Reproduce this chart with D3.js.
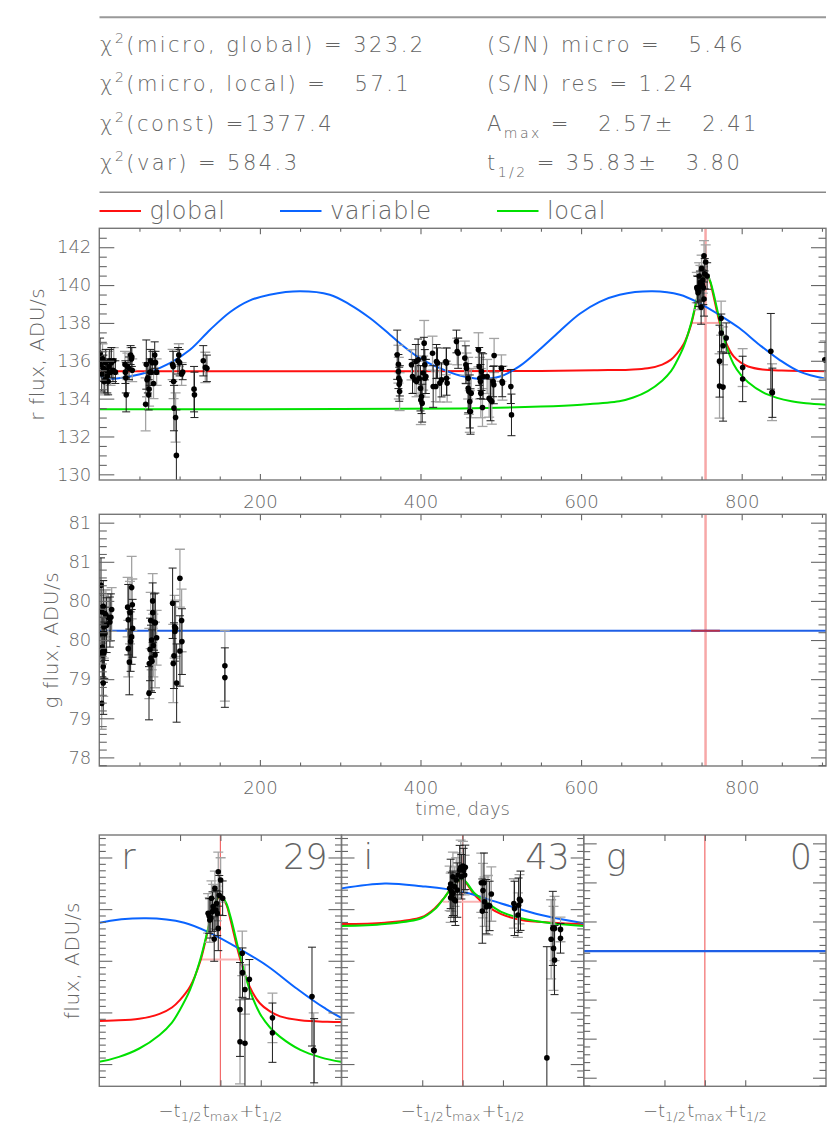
<!DOCTYPE html>
<html>
<head>
<meta charset="utf-8">
<script src="https://cdn.jsdelivr.net/npm/d3@7"></script>
<style>
body { margin: 0; background: #fff; }
svg text { font-family: "DejaVu Sans", "Liberation Sans", sans-serif; font-weight: 200; fill: #646464; }
.stat { font-size: 21px; letter-spacing: 2.45px; }
.legend { font-size: 24px; letter-spacing: 0.6px; }
.tick text { font-size: 18px; }
.ytitle { font-size: 20px; letter-spacing: 0.6px; }
.zlab { font-size: 18px; }
.big { font-size: 35px; }
</style>
</head>
<body>
<svg id="chart" width="830" height="1144"></svg>
<script>

// ---------------- data ----------------

// microlensing fit summary
var chiLabels = ["micro, global", "micro, local", "const", "var"];
var chiValues = [" = 323.2", " =   57.1", " =1377.4", " = 584.3"];
var snMicro = "  5.46";
var snRes = "1.24";
var aMax = ["2.57", "2.41"];
var tHalfText = ["35.83", "3.80"];
var tMax = 755;
var tHalf = 35.83;

var legendNames = ["global", "variable", "local"];
var legendColors = ["#ff1010", "#0a64ff", "#00e000"];

// r band photometry
var rTime = [
  1, 2, 3, 4, 5, 6, 7, 8, 9, 10, 11, 12, 13, 14, 15, 17, 18, 20,
  32, 32.5, 33, 33.5, 35, 37, 39, 40, 40.5, 41,
  57.7, 58.5, 59.5, 60.5, 61.5, 62, 63, 63.5, 64.5, 66, 67.5, 69, 70, 71.4,
  91.3, 92, 92.5, 93, 95, 96, 98, 99, 100, 102.5, 103.8,
  118, 118.5, 129.5, 132, 134,
  371, 372.5, 372.5, 373, 373.5, 374, 374.3,
  388.8, 390.1, 393, 394.2, 395.1, 397.1, 398.4, 400, 400.4, 401.3, 402.1, 403.3, 404.2, 404.6, 405.4, 405.4, 406.7,
  415, 415.8, 419.1, 419.9, 421.2, 424.1, 426.2, 431.6, 432.4, 432.4, 433.2,
  444.8, 445.7, 446.9, 455.2, 456.5, 457.3, 459.4, 459.4, 460.2, 461.4, 461.4, 462.3, 463.1,
  472.2, 473.1, 473.9, 474.7, 475.1, 476, 477.2, 478, 483, 485.5, 487.2, 488.8, 490.5, 491.7, 491.3,
  500.8, 501.7, 502.1, 512.5, 513.3,
  744.1, 745.0, 745.6, 746.5, 747.1, 748.0, 748.6, 749.5, 750.1, 751.0, 751.6, 752.2, 753.1, 753.1, 754.0, 755.2, 757.0,
  772.4, 772.4, 774.4, 774.6, 776.8, 776.8, 780.7, 801.2, 801.2, 836.3, 837.8, 838.2, 903.5
];
var rFlux = [
  136.4, 135.8, 135.3, 136.1, 135.6, 134.9, 135.0, 135.9, 135.5, 135.2, 134.9, 135.7, 136.0, 135.4, 135.9, 135.5, 136.0, 135.4,
  135.8, 135.4, 135.1, 134.2, 135.7, 135.6, 136.3, 136.1, 136.2, 135.5,
  133.7, 135.8, 135.0, 135.1, 134.2, 134.5, 135.4, 136.0, 135.4, 135.9, 134.8, 136.3, 135.9, 135.4,
  135.8, 135.7, 134.9, 133.5, 133.0, 131.0, 136.0, 136.3, 135.9, 135.3, 135.4,
  134.5, 134.2, 136.0, 135.65, 135.6,
  136.32, 135.82, 135.43, 135.08, 134.76, 134.37, 134.94,
  135.79, 135.17, 134.99, 135.96, 134.9, 136.05, 135.08, 134.55, 133.93, 134.11, 133.76, 135.35, 136.14, 136.93, 135.79, 135.08, 135.17,
  136.4, 134.64, 134.64, 135.96, 135.88, 134.82, 134.99, 135.96, 135.88, 135.08, 134.82,
  137.02, 136.49, 136.4, 136.14, 135.79, 135.61, 135.08, 134.55, 134.37, 133.85, 133.32, 133.32, 134.29,
  136.58, 135.7, 135.08, 134.9, 134.29, 135.43, 133.53, 135.17, 135.17, 134.02, 133.93, 133.85, 134.9, 136.28, 134.73,
  135.61, 134.9, 134.82, 134.64, 133.14,
  139.87, 139.76, 139.6, 139.67, 140.48, 139.94, 140.14, 138.83, 140.88, 140.0, 140.27, 139.87, 141.55, 139.26, 140.6, 141.22, 140.48,
  135.98, 134.67, 138.25, 137.47, 136.79, 134.61, 137.2, 135.64, 135.04, 136.5, 134.34, 134.31, 136.05
];
var rErr = [
  0.8, 0.7, 0.9, 0.8, 0.7, 0.6, 0.8, 0.7, 0.6, 0.9, 0.7, 0.8, 0.6, 0.7, 0.8, 0.6, 0.7, 0.6,
  0.7, 0.6, 0.8, 0.9, 0.7, 0.6, 0.5, 0.6, 0.5, 0.6,
  1.4, 1.3, 0.9, 0.8, 0.8, 0.9, 0.7, 0.6, 0.7, 0.6, 0.8, 0.7, 0.6, 0.7,
  0.8, 0.8, 0.9, 1.2, 1.3, 2.4, 0.7, 0.6, 0.7, 0.6, 0.4,
  1.2, 1.2, 0.8, 0.8, 0.7,
  1.3, 1.0, 0.9, 1.1, 0.9, 1.0, 0.8,
  0.8, 0.9, 0.7, 0.9, 0.8, 1.1, 0.9, 1.2, 1.3, 0.9, 1.0, 0.9, 1.1, 1.2, 0.8, 1.0, 0.9,
  0.9, 1.1, 0.8, 0.9, 0.8, 1.0, 0.9, 0.7, 0.8, 0.9, 1.0,
  0.6, 0.7, 0.8, 0.9, 1.0, 0.8, 1.1, 1.3, 1.2, 1.4, 1.1, 1.2, 1.3,
  0.9, 1.0, 1.1, 0.9, 1.3, 1.0, 1.0, 1.2, 0.9, 1.0, 1.1, 1.2, 0.8, 0.9, 1.0,
  0.7, 0.8, 0.9, 0.9, 1.1,
  0.8, 0.7, 0.9, 0.8, 0.7, 0.8, 0.9, 0.9, 0.7, 0.8, 0.7, 0.9, 0.8, 0.9, 0.8, 0.9, 0.7,
  1.9, 1.7, 0.9, 1.0, 1.0, 1.8, 0.8, 1.0, 1.2, 2.0, 1.5, 1.3, 1.0
];
// 1 = error bar drawn grey
var rGrey = [
  0,1,0,1,0,0,1,0,1,0,0,1,0,1,0,0,1,0,
  1,0,0,0,1,0,0,1,0,1,
  1,0,1,0,0,1,0,0,1,0,1,0,0,1,
  1,0,1,0,1,0,0,1,0,1,0,
  0,0,0,1,0,
  0,1,0,1,0,1,0,
  1,0,1,0,1,0,1,0,1,0,0,1,0,1,0,1,0,
  1,0,1,0,0,1,0,1,0,0,1,
  0,1,0,1,0,1,1,0,1,0,1,0,1,
  1,0,1,0,1,0,1,0,1,1,0,1,0,1,0,
  1,0,1,0,0,
  1,0,1,0,1,0,1,0,1,0,1,0,1,0,0,1,0,
  0,1,1,0,1,0,0,1,0,0,1,0,1
];

// g band photometry
var gTime = [
  2.1, 2.9, 3.7, 4.1, 4.9, 5.7, 6.2, 7.0, 7.0, 8.3, 9.1, 4.9, 4.9, 2.9, 2.1, 11.1, 13.2, 15.4, 14.4, 4.1, 5.7,
  35.3, 36.1, 36.1, 37.4, 38.2, 39.0, 40.3, 40.3, 41.1, 41.5,
  61.9, 62.3, 63.2, 64.0, 64.4, 65.2, 65.6, 66.5, 66.5, 67.3, 68.1, 69.4, 69.8, 71.4,
  91.3, 92.1, 93.0, 93.8, 94.2, 95.0, 96.3, 100.4, 100.4, 102.5, 102.9,
  156.4, 156.4
];
var gFlux = [
  80.20, 79.86, 79.41, 79.31, 79.93, 79.67, 79.37, 79.84, 79.58, 79.82, 79.69, 79.16, 78.95, 78.69, 79.58, 79.79, 79.73, 79.89, 79.79, 79.35, 79.33,
  79.92, 79.76, 79.39, 79.22, 79.85, 79.48, 80.17, 79.54, 79.95, 79.65,
  78.82, 79.2, 79.38, 79.75, 79.27, 79.5, 79.23, 80.0, 79.85, 79.43, 79.73, 79.31, 79.72, 79.53,
  79.97, 79.2, 79.3, 79.67, 79.61, 79.65, 78.95, 80.29, 79.36, 79.75, 79.48,
  79.17, 79.02
];
var gErr = [
  0.35, 0.4, 0.38, 0.35, 0.33, 0.4, 0.36, 0.3, 0.34, 0.32, 0.35, 0.38, 0.4, 0.33, 0.36, 0.3, 0.32, 0.28, 0.3, 0.35, 0.37,
  0.38, 0.45, 0.36, 0.42, 0.4, 0.38, 0.4, 0.35, 0.33, 0.37,
  0.34, 0.45, 0.4, 0.36, 0.42, 0.38, 0.4, 0.35, 0.38, 0.4, 0.36, 0.42, 0.38, 0.35,
  0.45, 0.5, 0.42, 0.4, 0.38, 0.36, 0.5, 0.37, 0.45, 0.4, 0.42,
  0.45, 0.38
];
var gGrey = [
  0,1,0,1,0,1,0,1,0,1,0,1,0,1,0,1,0,1,0,1,0,
  1,0,1,0,1,0,1,0,1,0,
  0,1,0,1,0,1,0,1,0,1,0,1,0,1,
  0,1,0,1,0,1,0,1,0,1,0,
  1,0
];

// i band photometry (only near the event)
var iTime = [
  743.5, 744.4, 745.0, 745.5, 746.4, 747.3, 747.9, 748.6, 749.4, 750.3, 750.9, 752.4, 753.3, 753.9, 755.3, 755.9, 756.8, 757.4, 744.4, 746.4,
  771.6, 772.5, 773.1, 774.0, 774.5, 776.0, 777.5, 779.0, 780.5,
  800.5, 801.1, 804.1, 804.7, 805.5, 806.4,
  829.8, 833.6, 835.1, 835.7, 836.6, 836.6, 841.9, 841.9
];
var iFlux = [
  180.88, 181.06, 180.75, 180.61, 181.35, 180.44, 180.95, 180.38, 181.22, 180.81, 181.42, 181.62, 181.73, 181.35, 181.78, 181.60, 181.42, 181.73, 180.5, 180.68,
  181.11, 179.96, 180.79, 181.11, 180.34, 180.14, 180.2, 180.17, 180.65,
  180.27, 180.07, 179.8, 180.2, 180.44, 180.38,
  174.02, 178.82, 179.26, 178.45, 177.98, 179.26, 179.22, 178.86
];
var iErr = [
  0.9, 1.0, 0.8, 0.9, 1.0, 0.9, 0.8, 1.0, 0.9, 1.1, 0.9, 1.0, 1.1, 0.9, 1.0, 0.9, 0.8, 0.9, 1.0, 0.9,
  1.2, 1.3, 1.1, 1.2, 1.0, 1.1, 1.2, 1.0, 1.1,
  1.0, 1.1, 0.9, 1.1, 1.0, 1.2,
  4.5, 1.6, 1.5, 1.7, 1.4, 1.3, 0.5, 0.6
];
var iGrey = [
  1,0,1,0,1,0,1,0,1,0,1,0,1,0,1,0,1,0,1,0,
  1,0,1,0,1,0,1,0,1,
  1,0,1,0,1,0,
  0,1,0,1,0,1,1,0
];

// r band models
var rVarDays = [0, 13, 38, 63, 88, 113, 138, 163, 187, 212, 250, 287, 312, 337, 362, 374, 399, 424, 449, 474, 499, 523, 548, 573, 598, 623, 648, 689, 723, 747, 772, 797, 822, 847, 872, 905];
var rVarFlux = [135.17, 135.05, 135.17, 135.43, 135.88, 136.58, 137.64, 138.58, 139.18, 139.49, 139.67, 139.49, 138.97, 138.26, 137.38, 136.94, 136.14, 135.61, 135.22, 135.05, 135.17, 135.70, 136.58, 137.55, 138.47, 139.11, 139.49, 139.67, 139.49, 139.05, 138.43, 137.73, 136.85, 136.05, 135.43, 135.05];
var rGlobalDays = [0, 300, 550, 620, 660, 683, 701, 712, 719, 728, 737, 746, 750, 755, 760, 764, 772, 781, 790, 799, 808, 826, 850, 880, 905];
var rGlobalFlux = [135.45, 135.45, 135.46, 135.5, 135.53, 135.6, 135.8, 136.06, 136.36, 136.90, 137.91, 139.60, 140.25, 140.57, 140.25, 139.60, 138.11, 136.90, 136.23, 135.9, 135.7, 135.54, 135.48, 135.46, 135.45];
var rLocalDays = [0, 300, 450, 550, 600, 647.5, 665, 683, 701, 712, 719, 728, 737, 746, 750, 755, 760, 764, 772, 781, 790, 799, 808, 826, 844, 862, 880, 905];
var rLocalFlux = [133.44, 133.45, 133.48, 133.58, 133.68, 133.86, 134.06, 134.40, 134.95, 135.45, 135.96, 136.77, 137.98, 139.60, 140.25, 140.61, 140.3, 139.73, 138.25, 136.77, 135.82, 135.25, 134.87, 134.34, 134.04, 133.86, 133.76, 133.68];
var rHalfMax = [737.1, 772.9, 138.0];

// i band models
var iVarDays = [647.5, 686, 718.4, 755, 789.3, 824.8, 862.5];
var iVarFlux = [180.88, 181.08, 180.97, 180.74, 180.27, 179.80, 179.47];
var iFitDays = [647.5, 686, 718.4, 730.2, 739, 747, 755, 765.6, 777.5, 789.3, 807, 834, 862.5];
var iGlobalFlux = [179.44, 179.49, 179.71, 180.07, 180.52, 181.0, 181.22, 180.61, 180.14, 179.84, 179.6, 179.49, 179.44];
var iLocalFlux = [179.36, 179.44, 179.67, 180.03, 180.52, 181.0, 181.25, 180.68, 180.27, 179.93, 179.67, 179.47, 179.36];
var iHalfMax = [737.3, 771.6, 180.34];

// g band model (flat)
var gVarDays = [0, 905];
var gVarFlux = [79.62, 79.62];
var gHalfMax = [737.1, 772.9, 79.62];

// ticks
var dayTicks = [200, 400, 600, 800];
var rTicks = [130, 132, 134, 136, 138, 140, 142];
var gTicks = [78, 78.5, 79, 79.5, 80, 80.5, 81];
var rZoomTicks = [133.77, 135.86, 137.95, 140.04, 142.13];
var iZoomTicks = [173.77, 175.86, 177.95, 180.04, 182.13];
var zoomCounts = ["29", "43", "0"];
var zoomBands = ["r", "i", "g"];

// ---------------- drawing ----------------

var svg = d3.select("#chart");
var defs = svg.append("defs");
var clipId = 0;

function panel(box){
    var id = "clip" + (clipId++);
    defs.append("clipPath").attr("id", id).append("rect")
        .attr("x", box.x0).attr("y", box.y0)
        .attr("width", box.x1 - box.x0).attr("height", box.y1 - box.y0);
    var g = svg.append("g");
    var inner = g.append("g").attr("clip-path", "url(#" + id + ")");
    return {g: g, inner: inner};
}

function frame(g, box){
    g.append("rect")
        .attr("x", box.x0).attr("y", box.y0)
        .attr("width", box.x1 - box.x0).attr("height", box.y1 - box.y0)
        .attr("fill", "none").attr("stroke", "#777").attr("stroke-width", 1.4);
}

function styleAxis(a){
    a.attr("font-size", null).attr("font-family", null);
    a.select(".domain").remove();
    a.selectAll("line").attr("stroke", "#666").attr("stroke-width", 1.1);
}

// ticks on all four sides, pointing inward
function axes(g, box, x, y, opt){
    var ax = g.append("g").attr("transform", "translate(0," + box.y1 + ")")
        .call(d3.axisBottom(x).tickValues(opt.xMajor).tickSize(-6).tickPadding(15)
            .tickFormat(opt.xLabels ? d3.format("d") : ""));
    styleAxis(ax);
    var ax2 = g.append("g").attr("transform", "translate(0," + box.y0 + ")")
        .call(d3.axisTop(x).tickValues(opt.xMajor).tickSize(-6).tickFormat(""));
    styleAxis(ax2);
    if (opt.xMinor){
        styleAxis(g.append("g").attr("transform", "translate(0," + box.y1 + ")")
            .call(d3.axisBottom(x).tickValues(opt.xMinor).tickSize(-3.5).tickFormat("")));
        styleAxis(g.append("g").attr("transform", "translate(0," + box.y0 + ")")
            .call(d3.axisTop(x).tickValues(opt.xMinor).tickSize(-3.5).tickFormat("")));
    }
    var ay = g.append("g").attr("transform", "translate(" + box.x0 + ",0)")
        .call(d3.axisLeft(y).tickValues(opt.yMajor).tickSize(-opt.yLen).tickPadding(8)
            .tickFormat(opt.yFormat || ""));
    styleAxis(ay);
    styleAxis(g.append("g").attr("transform", "translate(" + box.x1 + ",0)")
        .call(d3.axisRight(y).tickValues(opt.yMajor).tickSize(-opt.yLen).tickFormat("")));
    styleAxis(g.append("g").attr("transform", "translate(" + box.x0 + ",0)")
        .call(d3.axisLeft(y).tickValues(opt.yMinor).tickSize(-opt.yLen / 2).tickFormat("")));
    styleAxis(g.append("g").attr("transform", "translate(" + box.x1 + ",0)")
        .call(d3.axisRight(y).tickValues(opt.yMinor).tickSize(-opt.yLen / 2).tickFormat("")));
}

function curve(g, x, y, days, vals, color, width){
    var line = d3.line().x(d => x(d[0])).y(d => y(d[1])).curve(d3.curveCatmullRom.alpha(0.5));
    g.append("path").attr("d", line(d3.zip(days, vals)))
        .attr("fill", "none").attr("stroke", color).attr("stroke-width", width || 2);
}

function points(g, x, y, t, f, e, grey){
    var idx = d3.range(t.length).sort((a, b) => grey[b] - grey[a]);
    var bars = g.selectAll(".bar").data(idx).enter().append("g")
        .attr("class", "bar")
        .attr("stroke", i => grey[i] ? "#a3a3a3" : "#1e1e1e")
        .attr("stroke-width", i => grey[i] ? 1.3 : 1);
    bars.append("line")
        .attr("x1", i => x(t[i])).attr("x2", i => x(t[i]))
        .attr("y1", i => y(f[i] - e[i])).attr("y2", i => y(f[i] + e[i]));
    bars.append("line")
        .attr("x1", i => x(t[i]) - (grey[i] ? 5 : 4)).attr("x2", i => x(t[i]) + (grey[i] ? 5 : 4))
        .attr("y1", i => y(f[i] + e[i])).attr("y2", i => y(f[i] + e[i]));
    bars.append("line")
        .attr("x1", i => x(t[i]) - (grey[i] ? 5 : 4)).attr("x2", i => x(t[i]) + (grey[i] ? 5 : 4))
        .attr("y1", i => y(f[i] - e[i])).attr("y2", i => y(f[i] - e[i]));
    g.selectAll(".pt").data(idx).enter().append("circle")
        .attr("class", "pt")
        .attr("cx", i => x(t[i])).attr("cy", i => y(f[i]))
        .attr("r", 2.8).attr("fill", "#000");
}

function tmaxLine(g, x, box, color, width){
    g.append("line").attr("x1", x(tMax)).attr("x2", x(tMax))
        .attr("y1", box.y0).attr("y2", box.y1)
        .attr("stroke", color).attr("stroke-width", width);
}

function halfLine(g, x, y, h, color){
    g.append("line").attr("x1", x(h[0])).attr("x2", x(h[1]))
        .attr("y1", y(h[2])).attr("y2", y(h[2]))
        .attr("stroke", color).attr("stroke-width", 2);
}

function ytitle(text, bx, cy){
    svg.append("text").attr("class", "ytitle")
        .attr("transform", "translate(" + bx + "," + cy + ") rotate(-90)")
        .attr("text-anchor", "middle").text(text);
}

// ---- header ----
var hdr = svg.append("g");
hdr.append("line").attr("x1", 99.5).attr("x2", 826).attr("y1", 17.3).attr("y2", 17.3)
    .attr("stroke", "#999").attr("stroke-width", 2);
hdr.append("line").attr("x1", 99.5).attr("x2", 826).attr("y1", 192.3).attr("y2", 192.3)
    .attr("stroke", "#888").attr("stroke-width", 1.6);

chiLabels.forEach(function(lab, i){
    var t = hdr.append("text").attr("class", "stat").attr("x", 100).attr("y", 51.7 + i * 39.4)
        .attr("xml:space", "preserve").style("white-space", "pre");
    t.append("tspan").text("χ");
    t.append("tspan").attr("font-size", "14px").attr("dy", -9).text("2");
    t.append("tspan").attr("dy", 9).text("(" + lab + ")" + chiValues[i]);
});

var rightRows = [
    [["(S/N) micro = " + snMicro, 0]],
    [["(S/N) res = " + snRes, 0]],
    [["A", 0], ["max", 1], [" =   " + aMax[0] + "±   " + aMax[1], 2]],
    [["t", 0], ["1/2", 1], [" = " + tHalfText[0] + "±   " + tHalfText[1], 2]]
];
rightRows.forEach(function(row, i){
    var t = hdr.append("text").attr("class", "stat").attr("x", 487).attr("y", 51.7 + i * 39.4)
        .attr("xml:space", "preserve").style("white-space", "pre");
    row.forEach(function(p){
        var s = t.append("tspan").text(p[0]);
        if (p[1] == 1) s.attr("font-size", "14px").attr("dy", 7);
        if (p[1] == 2) s.attr("dy", -7);
    });
});

// legend
var legX = [99.5, 280, 497];
legendNames.forEach(function(name, i){
    hdr.append("line").attr("x1", legX[i]).attr("x2", legX[i] + 41.5)
        .attr("y1", 211).attr("y2", 211)
        .attr("stroke", legendColors[i]).attr("stroke-width", 2);
    hdr.append("text").attr("class", "legend").attr("x", legX[i] + 50).attr("y", 218.5).text(name);
});

// ---- r band, full light curve ----
var topBox = {x0: 99.3, x1: 826, y0: 228.3, y1: 480};
var xDay = d3.scaleLinear().domain([0, 905]).range([topBox.x0, topBox.x1]);
var yR = d3.scaleLinear().domain([129.7, 143.0]).range([topBox.y1, topBox.y0]);
var p1 = panel(topBox);
tmaxLine(p1.inner, xDay, topBox, "#f7a8a8", 2.5);
halfLine(p1.inner, xDay, yR, rHalfMax, "#f7a8a8");
curve(p1.inner, xDay, yR, rGlobalDays, rGlobalFlux, legendColors[0]);
curve(p1.inner, xDay, yR, rVarDays, rVarFlux, legendColors[1]);
curve(p1.inner, xDay, yR, rLocalDays, rLocalFlux, legendColors[2]);
points(p1.inner, xDay, yR, rTime, rFlux, rErr, rGrey);
frame(p1.g, topBox);
axes(p1.g, topBox, xDay, yR, {
    xMajor: dayTicks, xMinor: d3.range(50, 905, 50).filter(d => d % 200 != 0), xLabels: true,
    yMajor: rTicks, yMinor: d3.range(130, 143, 0.5).filter(d => d % 2 != 0), yLen: 15,
    yFormat: d3.format("d")
});
ytitle("r flux, ADU/s", 43.5, (topBox.y0 + topBox.y1) / 2);

// ---- g band, full light curve ----
var midBox = {x0: 99.3, x1: 826, y0: 514.3, y1: 766};
var xDay2 = d3.scaleLinear().domain([0, 905]).range([midBox.x0, midBox.x1]);
var yG = d3.scaleLinear().domain([77.89, 81.107]).range([midBox.y1, midBox.y0]);
var p2 = panel(midBox);
tmaxLine(p2.inner, xDay2, midBox, "#f7a8a8", 2.5);
curve(p2.inner, xDay2, yG, gVarDays, gVarFlux, "#1f5fe6");
halfLine(p2.inner, xDay2, yG, gHalfMax, "#b8304a");
points(p2.inner, xDay2, yG, gTime, gFlux, gErr, gGrey);
frame(p2.g, midBox);
axes(p2.g, midBox, xDay2, yG, {
    xMajor: dayTicks, xMinor: d3.range(50, 905, 50).filter(d => d % 200 != 0), xLabels: true,
    yMajor: gTicks, yMinor: d3.range(77.9, 81.1, 0.1).filter(d => Math.abs(d * 2 - Math.round(d * 2)) > 0.01), yLen: 15,
    yFormat: d => Math.round(d)
});
ytitle("g flux, ADU/s", 58, (midBox.y0 + midBox.y1) / 2);
svg.append("text").attr("class", "zlab").attr("x", (midBox.x0 + midBox.x1) / 2).attr("y", 815)
    .attr("text-anchor", "middle").text("time, days");

// ---- zoom panels around t_max ----
var zDomain = [tMax - 3 * tHalf, tMax + 3 * tHalf];
var zBoxes = [
    {x0: 99.3, x1: 341.5, y0: 835, y1: 1086.3},
    {x0: 341.5, x1: 583.7, y0: 835, y1: 1086.3},
    {x0: 583.7, x1: 826, y0: 835, y1: 1086.3}
];
var zY = [
    d3.scaleLinear().domain([132.87, 143.04]).range([1086.3, 835]),
    d3.scaleLinear().domain([172.87, 183.04]).range([1086.3, 835]),
    d3.scaleLinear().domain([77.89, 81.107]).range([1086.3, 835])
];
var zTicks = [rZoomTicks, iZoomTicks, gTicks];
var zMinor = [
    d3.range(133.25, 143, 0.2613),
    d3.range(173.25, 183, 0.2613),
    d3.range(77.9, 81.1, 0.1)
];

zBoxes.forEach(function(box, k){
    var x = d3.scaleLinear().domain(zDomain).range([box.x0, box.x1]);
    var y = zY[k];
    var p = panel(box);
    tmaxLine(p.inner, x, box, "#f26a6a", 1.2);
    if (k == 0){
        halfLine(p.inner, x, y, rHalfMax, "#f9b4b4");
        curve(p.inner, x, y, rGlobalDays, rGlobalFlux, legendColors[0]);
        curve(p.inner, x, y, rVarDays, rVarFlux, legendColors[1]);
        curve(p.inner, x, y, rLocalDays, rLocalFlux, legendColors[2]);
        points(p.inner, x, y, rTime, rFlux, rErr, rGrey);
    } else if (k == 1){
        halfLine(p.inner, x, y, iHalfMax, "#f9b4b4");
        curve(p.inner, x, y, iFitDays, iGlobalFlux, legendColors[0]);
        curve(p.inner, x, y, iVarDays, iVarFlux, legendColors[1]);
        curve(p.inner, x, y, iFitDays, iLocalFlux, legendColors[2]);
        points(p.inner, x, y, iTime, iFlux, iErr, iGrey);
    } else {
        curve(p.inner, x, y, gVarDays, gVarFlux, "#1f5fe6", 2.2);
    }
    frame(p.g, box);
    var minor = zMinor[k].filter(v => zTicks[k].every(m => Math.abs(m - v) > 0.05));
    axes(p.g, box, x, y, {
        xMajor: [tMax - tHalf, tMax, tMax + tHalf], xLabels: false,
        yMajor: zTicks[k], yMinor: minor, yLen: 13
    });
    // tick labels with subscripts
    var labs = [["−t", "1/2", tMax - tHalf], ["t", "max", tMax], ["+t", "1/2", tMax + tHalf]];
    labs.forEach(function(l){
        var t = p.g.append("text").attr("class", "zlab").attr("x", x(l[2])).attr("y", 1116.5)
            .attr("text-anchor", "middle");
        t.append("tspan").text(l[0]);
        t.append("tspan").attr("font-size", "13px").attr("dy", 4).text(l[1]);
    });
    p.g.append("text").attr("class", "big").attr("x", box.x0 + 22).attr("y", 869).text(zoomBands[k]);
    p.g.append("text").attr("class", "big").attr("x", box.x1 - 14).attr("y", 869)
        .attr("text-anchor", "end").text(zoomCounts[k]);
});
ytitle("flux, ADU/s", 79, (zBoxes[0].y0 + zBoxes[0].y1) / 2);

</script>
</body>
</html>
